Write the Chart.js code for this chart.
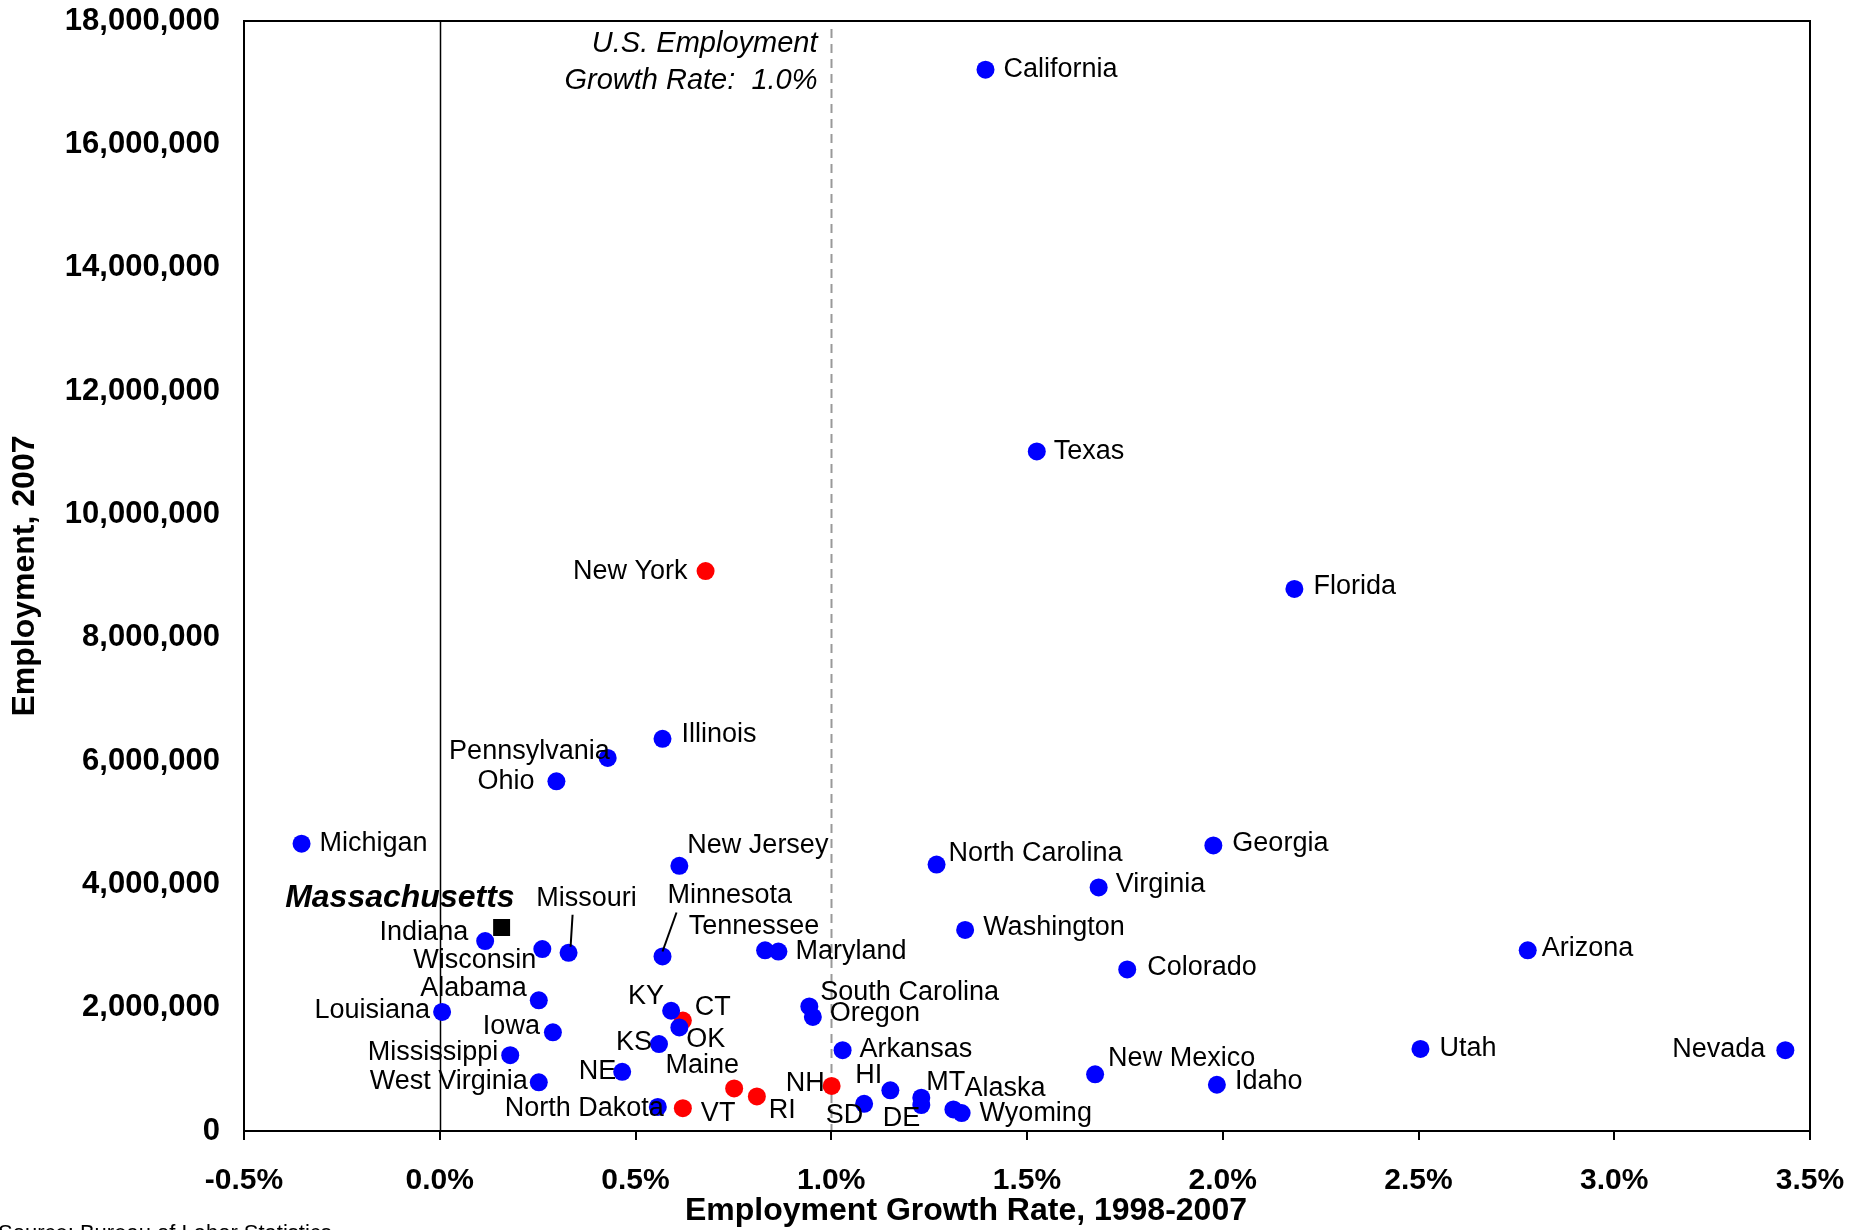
<!DOCTYPE html>
<html>
<head>
<meta charset="utf-8">
<script src="https://cdn.jsdelivr.net/npm/chart.js@4.4.0/dist/chart.umd.min.js"></script>
<style>
  body { margin: 0; background: #fff; }
  canvas { display: block; }
</style>
</head>
<body>
<canvas id="chart" width="1865" height="1230"></canvas>
<script>
// State employment 2007 vs growth rate 1998-2007
const stateNames = [
  "California", "Texas", "New York", "Florida", "Illinois", "Pennsylvania", "Ohio", "Michigan",
  "Georgia", "New Jersey", "North Carolina", "Virginia", "Massachusetts", "Indiana", "Washington",
  "Wisconsin", "Missouri", "Minnesota", "Tennessee", "Maryland", "Arizona", "Colorado", "Alabama",
  "Louisiana", "KY", "CT", "OK", "South Carolina", "Oregon", "Iowa", "KS", "Arkansas", "Utah",
  "Nevada", "Mississippi", "New Mexico", "NE", "Maine", "NH", "West Virginia", "Idaho", "HI", "RI",
  "MT", "DE", "SD", "Alaska", "Wyoming", "North Dakota", "VT"
];
const growthRate = [
  1.394, 1.525, 0.679, 2.183, 0.569, 0.429, 0.298, -0.353,
  1.976, 0.612, 1.269, 1.683, 0.158, 0.116, 1.342,
  0.262, 0.329, 0.569, 0.831, 0.865, 2.779, 1.756, 0.253,
  0.006, 0.591, 0.621, 0.612, 0.944, 0.953, 0.289, 0.560, 1.029, 2.505,
  3.437, 0.180, 1.674, 0.466, 0.752, 1.001, 0.253, 1.985, 1.151, 0.810,
  1.230, 1.230, 1.084, 1.312, 1.333, 0.557, 0.621
];
const employment = [
  17210000, 11020000, 9080000, 8790000, 6360000, 6050000, 5670000, 4660000,
  4630000, 4300000, 4320000, 3950000, 3300000, 3080000, 3260000,
  2950000, 2890000, 2830000, 2930000, 2910000, 2930000, 2620000, 2120000,
  1930000, 1950000, 1790000, 1680000, 2020000, 1850000, 1600000, 1410000, 1310000, 1330000,
  1310000, 1230000, 920000, 960000, 690000, 730000, 790000, 750000, 660000, 560000,
  540000, 420000, 440000, 350000, 290000, 390000, 370000
];
const redStates = ["New York", "CT", "Maine", "NH", "RI", "VT"];
const focusState = "Massachusetts";
const usGrowthRate = 1.0;

// label placement: [dx, dy, align]
const labelPos = {
  "California": [18, 0, "left"], "Texas": [17, 0, "left"], "New York": [-18, 0, "right"],
  "Florida": [19, -2, "left"], "Illinois": [19, -4, "left"], "Pennsylvania": [2, -6, "right"],
  "Ohio": [-22, 0, "right"], "Michigan": [18, 0, "left"], "Georgia": [19, -2, "left"],
  "New Jersey": [8, -20, "left"], "North Carolina": [12, -11, "left"], "Virginia": [17, -3, "left"],
  "Massachusetts": [13, -29, "right"], "Indiana": [-17, -9, "right"], "Washington": [18, -2, "left"],
  "Wisconsin": [-6, 11, "right"], "Missouri": [18, -54, "center"], "Minnesota": [5, -61, "left"],
  "Tennessee": [-11, -24, "center"], "Maryland": [17, 0, "left"], "Arizona": [14, -2, "left"],
  "Colorado": [20, -2, "left"], "Alabama": [-12, -12, "right"], "Louisiana": [-12, -1, "right"],
  "KY": [-7, -14, "right"], "CT": [12, -13, "left"], "OK": [7, 12, "left"],
  "South Carolina": [11, -14, "left"], "Oregon": [17, -3, "left"], "Iowa": [-13, -6, "right"],
  "KS": [-7, -2, "right"], "Arkansas": [17, -1, "left"], "Utah": [19, 0, "left"],
  "Nevada": [-20, -1, "right"], "Mississippi": [-12, -3, "right"], "New Mexico": [13, -16, "left"],
  "NE": [-6, 0, "right"], "Maine": [-32, -23, "center"], "NH": [-7, -2, "right"],
  "West Virginia": [-11, -1, "right"], "Idaho": [18, -3, "left"], "HI": [-8, -15, "right"],
  "RI": [12, 14, "left"], "MT": [5, -15, "left"], "DE": [-1, 13, "right"],
  "SD": [-1, 12, "right"], "Alaska": [11, -21, "left"], "Wyoming": [18, 0, "left"],
  "North Dakota": [6, 2, "right"], "VT": [18, 5, "left"]
};
// leader lines: [x1, y1, x2, y2] relative to the point
const leaders = {
  "Missouri": [4, -38, 2, -6],
  "Minnesota": [14, -44, 0, -5]
};

const FONT = "'Liberation Sans', Arial, sans-serif";

function pointsFor(filter) {
  const out = [];
  stateNames.forEach((n, i) => {
    if (filter(n)) out.push({ x: growthRate[i], y: employment[i], name: n });
  });
  return out;
}

const annotations = {
  id: "annotations",
  beforeDatasetsDraw(chart) {
    const { ctx, chartArea: a, scales: { x } } = chart;
    ctx.save();
    // zero line
    const x0 = Math.round(x.getPixelForValue(0)) + 0.5;
    ctx.strokeStyle = "#000";
    ctx.lineWidth = 1.5;
    ctx.beginPath();
    ctx.moveTo(x0, a.top);
    ctx.lineTo(x0, a.bottom);
    ctx.stroke();
    // US growth line
    const xu = Math.round(x.getPixelForValue(usGrowthRate)) + 0.5;
    ctx.strokeStyle = "#999";
    ctx.lineWidth = 2;
    ctx.setLineDash([9, 6]);
    ctx.beginPath();
    ctx.moveTo(xu, a.top + 8);
    ctx.lineTo(xu, a.bottom);
    ctx.stroke();
    ctx.setLineDash([]);
    // frame
    ctx.strokeStyle = "#000";
    ctx.lineWidth = 2;
    ctx.strokeRect(a.left, a.top, a.right - a.left, a.bottom - a.top);
    // annotation text
    ctx.fillStyle = "#000";
    ctx.font = "italic 29px " + FONT;
    ctx.textAlign = "right";
    ctx.textBaseline = "middle";
    ctx.fillText("U.S. Employment", xu - 14, 44);
    ctx.fillText("Growth Rate:  1.0%", xu - 14, 81);
    ctx.restore();
  },
  afterDatasetsDraw(chart) {
    const { ctx } = chart;
    ctx.save();
    ctx.fillStyle = "#000";
    ctx.strokeStyle = "#000";
    ctx.textBaseline = "middle";
    chart.data.datasets.forEach((ds, di) => {
      const meta = chart.getDatasetMeta(di);
      meta.data.forEach((el, i) => {
        const name = ds.data[i].name;
        const p = labelPos[name] || [15, 0, "left"];
        ctx.font = name === focusState ? "italic bold 32px " + FONT : "27px " + FONT;
        ctx.textAlign = p[2];
        ctx.fillText(name, el.x + p[0], el.y + p[1]);
        const l = leaders[name];
        if (l) {
          ctx.lineWidth = 2;
          ctx.beginPath();
          ctx.moveTo(el.x + l[0], el.y + l[1]);
          ctx.lineTo(el.x + l[2], el.y + l[3]);
          ctx.stroke();
        }
      });
    });
    // x axis title, sits left of centre in the original
    ctx.font = "bold 32px " + FONT;
    ctx.textAlign = "center";
    ctx.fillText("Employment Growth Rate, 1998-2007", 966, 1211);
    // source note, mostly cut off at the bottom edge
    ctx.font = "22px " + FONT;
    ctx.textAlign = "left";
    ctx.textBaseline = "top";
    ctx.fillText("Source: Bureau of Labor Statistics", -2, 1223);
    ctx.restore();
  }
};

new Chart(document.getElementById("chart"), {
  type: "scatter",
  data: {
    datasets: [
      {
        data: pointsFor(n => !redStates.includes(n) && n !== focusState),
        backgroundColor: "#0000ff", borderWidth: 0, pointRadius: 9
      },
      {
        data: pointsFor(n => redStates.includes(n)),
        backgroundColor: "#ff0000", borderWidth: 0, pointRadius: 9
      },
      {
        data: pointsFor(n => n === focusState),
        backgroundColor: "#000", borderWidth: 0, pointRadius: 12, pointStyle: "rect"
      }
    ]
  },
  options: {
    responsive: false,
    devicePixelRatio: 1,
    animation: false,
    layout: { padding: { top: 21, right: 55, left: 0, bottom: 0 } },
    plugins: { legend: { display: false }, tooltip: { enabled: false } },
    scales: {
      x: {
        type: "linear",
        min: -0.5, max: 3.5,
        grid: { drawOnChartArea: false, drawTicks: true, tickLength: 9, color: "#000", lineWidth: 2 },
        border: { display: false },
        ticks: {
          stepSize: 0.5, padding: 23, color: "#000",
          font: { family: FONT, size: 30, weight: "bold" },
          callback: v => v.toFixed(1) + "%"
        },
        afterFit(s) { s.height = 99; s.paddingLeft = 0; s.paddingRight = 0; }
      },
      y: {
        min: 0, max: 18000000,
        grid: { display: false, drawTicks: false },
        border: { display: false },
        ticks: {
          stepSize: 2000000, padding: 24, color: "#000",
          font: { family: FONT, size: 31, weight: "bold" },
          callback: v => v.toLocaleString("en-US")
        },
        title: {
          display: true, text: "Employment, 2007", color: "#000",
          font: { family: FONT, size: 32, weight: "bold" },
          padding: { top: 6, bottom: 0 }
        },
        afterFit(s) { s.width = 244; s.paddingTop = 0; s.paddingBottom = 0; }
      }
    }
  },
  plugins: [annotations]
});
</script>
</body>
</html>
